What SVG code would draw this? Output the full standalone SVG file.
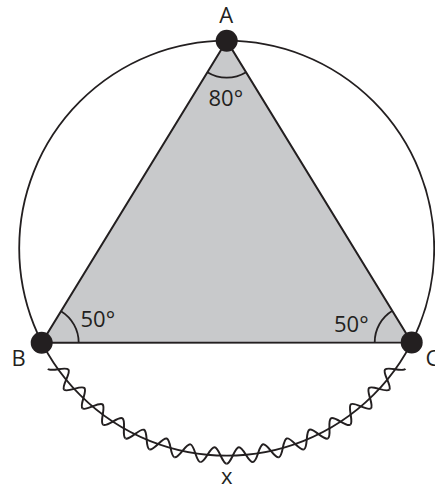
<svg xmlns="http://www.w3.org/2000/svg" xmlns:xlink="http://www.w3.org/1999/xlink" width="435" height="488" viewBox="0 0 435 488">
  <style>
    .lbl { font-family: "Open Sans", "Liberation Sans", sans-serif; font-size: 22px; fill: #231f20; }
    .ln { fill: none; stroke: #231f20; stroke-width: 1.8; }
    .dot { fill: #231f20; }
  </style>
  <defs>
    <path id="wave" d="M0,215.5 C4.6,215.5 7.62,199.41 12.21,199.13 C16.80,198.85 21.63,214.46 26.26,213.90" fill="none" stroke="#231f20" stroke-width="2"/>
  </defs>
  <rect width="435" height="488" fill="#ffffff"/>
  <g id="triangle">
    <polygon points="226.7,40.7 41.7,342.7 411.7,342.5" fill="#c8c9cb" stroke="#231f20" stroke-width="2"/>
  </g>
  <g id="circle">
    <circle cx="226.7" cy="248.2" r="207.5" class="ln"/>
  </g>
  <g id="connectors">
    <g id="wavy-arc" transform="translate(226.7,248.2)">
      <use xlink:href="#wave" transform="rotate(56)"/>
      <use xlink:href="#wave" transform="rotate(49)"/>
      <use xlink:href="#wave" transform="rotate(42)"/>
      <use xlink:href="#wave" transform="rotate(35)"/>
      <use xlink:href="#wave" transform="rotate(28)"/>
      <use xlink:href="#wave" transform="rotate(21)"/>
      <use xlink:href="#wave" transform="rotate(14)"/>
      <use xlink:href="#wave" transform="rotate(7)"/>
      <use xlink:href="#wave" transform="rotate(0)"/>
      <use xlink:href="#wave" transform="rotate(-7)"/>
      <use xlink:href="#wave" transform="rotate(-14)"/>
      <use xlink:href="#wave" transform="rotate(-21)"/>
      <use xlink:href="#wave" transform="rotate(-28)"/>
      <use xlink:href="#wave" transform="rotate(-35)"/>
      <use xlink:href="#wave" transform="rotate(-42)"/>
      <use xlink:href="#wave" transform="rotate(-49)"/>
    </g>
  </g>
  <g id="angle-arcs">
    <path class="ln" d="M207.37,72.25 A37,37 0 0 0 246.05,72.24"/>
    <path class="ln" d="M78.7,342.7 A37,37 0 0 0 61.03,311.15"/>
    <path class="ln" d="M374.7,342.4 A37,37 0 0 1 392.35,310.76"/>
  </g>
  <g id="node-A">
    <circle class="dot" cx="226.7" cy="40.7" r="11"/>
    <text class="lbl" x="226.3" y="23.3" text-anchor="middle">A</text>
    <text class="lbl" x="225.8" y="106" text-anchor="middle">80°</text>
  </g>
  <g id="node-B">
    <circle class="dot" cx="41.7" cy="342.7" r="11"/>
    <text class="lbl" x="11.5" y="366">B</text>
    <text class="lbl" x="80.5" y="327">50°</text>
  </g>
  <g id="node-C">
    <circle class="dot" cx="411.7" cy="342.4" r="11"/>
    <text class="lbl" x="425.5" y="365.5">C</text>
    <text class="lbl" x="334" y="332">50°</text>
  </g>
  <g id="label-x">
    <text class="lbl" x="226.7" y="484" text-anchor="middle">x</text>
  </g>
</svg>
